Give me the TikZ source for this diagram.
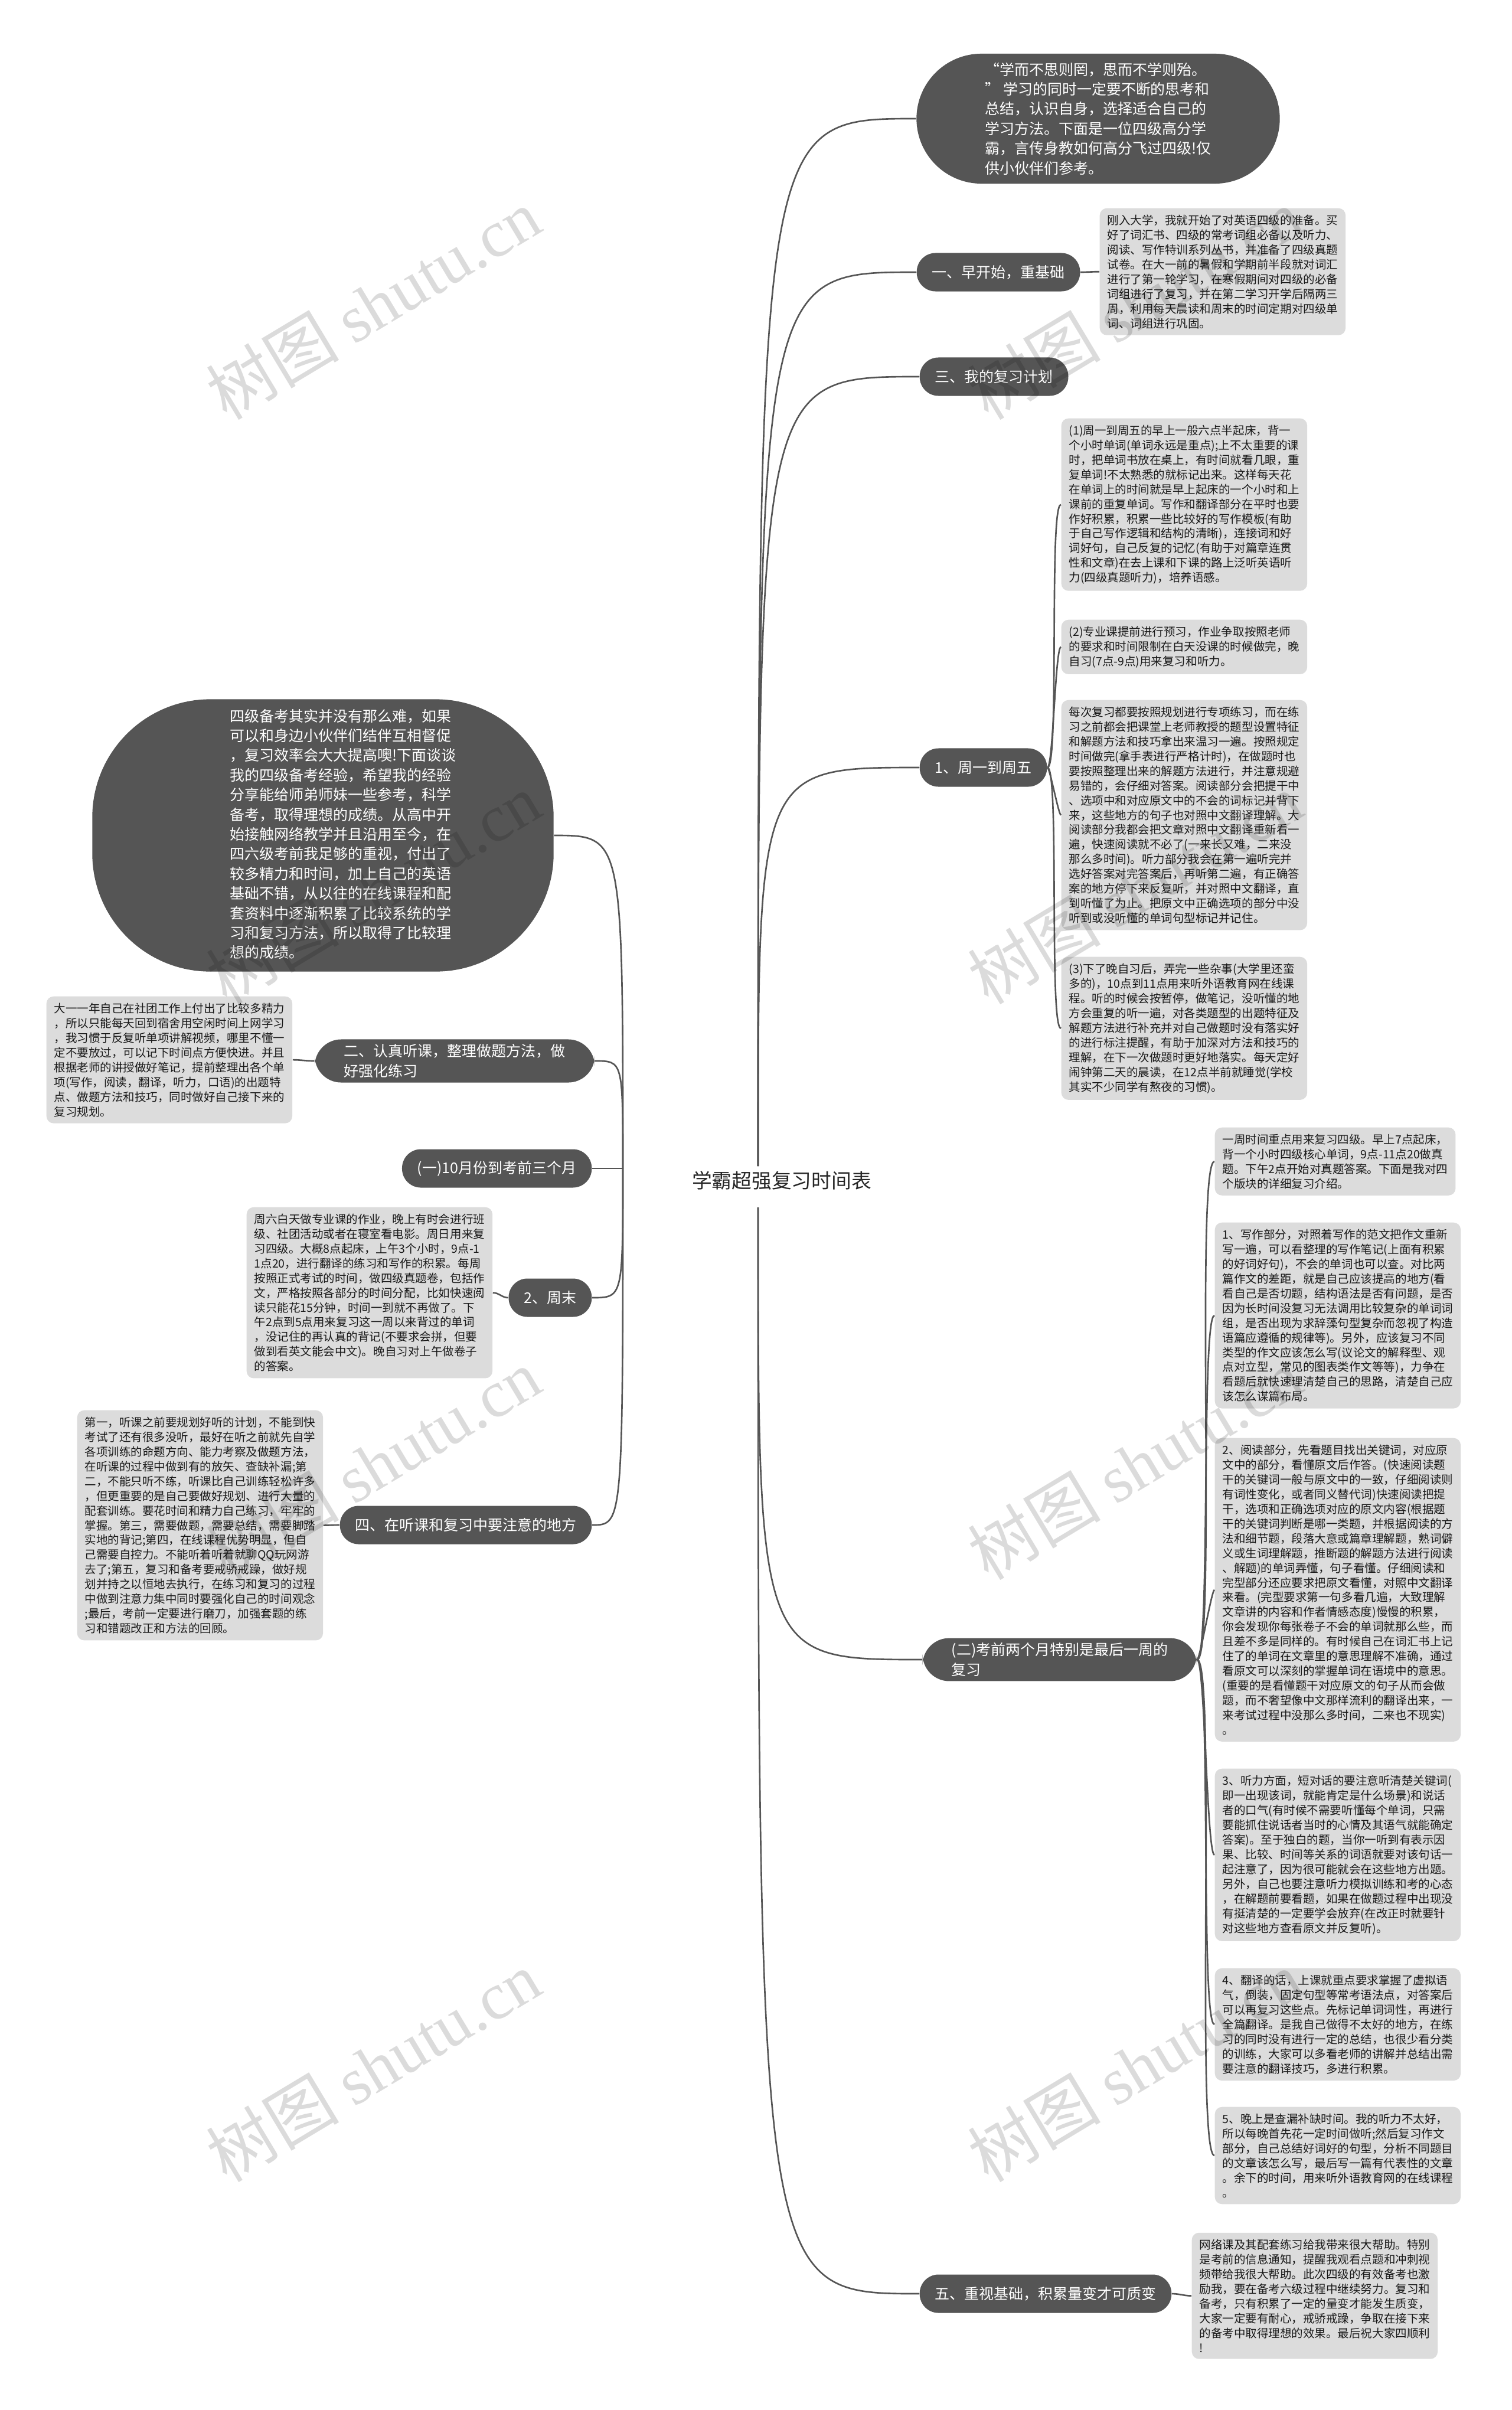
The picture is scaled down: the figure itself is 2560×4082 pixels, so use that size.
\documentclass[tikz,border=0pt]{standalone}
\usepackage{fontspec}
\setmainfont{Noto Sans CJK SC}
\newfontfamily\wmlatin{Liberation Serif}
\definecolor{topicgray}{HTML}{555555}
\definecolor{notegray}{HTML}{DCDCDC}

\begin{document}
\begin{tikzpicture}[x=0.01cm,y=-0.01cm,
    bubble/.style={fill=topicgray,text=white,align=left,font=\fontsize{7.1pt}{9.5pt}\selectfont},
    topic/.style={fill=topicgray,text=white,align=left,rounded corners=0.32cm,inner xsep=0.26cm,inner ysep=0.08cm,minimum height=0.65cm,font=\fontsize{7.1pt}{9.6pt}\selectfont},
    note/.style={fill=notegray,text=black!90,align=left,rounded corners=0.12cm,inner xsep=0.13cm,inner ysep=0.11cm,anchor=north west,font=\fontsize{5.55pt}{7.1pt}\selectfont},
    link/.style={draw=topicgray,line width=0.75pt},
    watermark/.style={text=black,opacity=0.14,rotate=31,font=\fontsize{32pt}{32pt}\selectfont}]

% page
\fill[white] (0,0) rectangle (2560,4082);
\useasboundingbox (0,0) rectangle (2560,4082);

% centre topic
\node[font=\fontsize{9.6pt}{11pt}\selectfont,text=black!85] (root) at (1324,2000) {学霸超强复习时间表};
\coordinate (upj) at (1284,1975);
\coordinate (dnj) at (1284,2045);
\coordinate (lj) at (1055,1979);

% bubbles
\node[bubble,minimum width=6.15cm,minimum height=2.2cm,rounded corners=1.1cm] (intro) at (1860,201) {“学而不思则罔，思而不学则殆。\\” 学习的同时一定要不断的思考和\\总结，认识自身，选择适合自己的\\学习方法。下面是一位四级高分学\\霸，言传身教如何高分飞过四级!仅\\供小伙伴们参考。};
\node[bubble,minimum width=7.81cm,minimum height=4.61cm,rounded corners=2cm] (summary) at (547,1415) {};
\node[bubble,fill=none] (summarytext) at (581,1413) {四级备考其实并没有那么难，如果\\可以和身边小伙伴们结伴互相督促\\，复习效率会大大提高噢!下面谈谈\\我的四级备考经验，希望我的经验\\分享能给师弟师妹一些参考，科学\\备考，取得理想的成绩。从高中开\\始接触网络教学并且沿用至今，在\\四六级考前我足够的重视，付出了\\较多精力和时间，加上自己的英语\\基础不错，从以往的在线课程和配\\套资料中逐渐积累了比较系统的学\\习和复习方法，所以取得了比较理\\想的成绩。};

% right topics
\node[topic,anchor=west] (early) at (1552,461) {一、早开始，重基础};
\node[topic,anchor=west] (plan) at (1557,638) {三、我的复习计划};
\node[topic,anchor=west] (weekday) at (1557,1300) {1、周一到周五};
\node[topic,anchor=west,minimum width=4.64cm,rounded corners=0.45cm] (final) at (1562,2811) {(二)考前两个月特别是最后一周的\\复习};
\node[topic,anchor=west] (basic) at (1557,3885) {五、重视基础，积累量变才可质变};

% left topics
\node[topic,anchor=east,minimum width=4.74cm,rounded corners=0.45cm] (listen) at (1008,1797) {二、认真听课，整理做题方法，做\\好强化练习};
\node[topic,anchor=east] (october) at (1003,1979) {(一)10月份到考前三个月};
\node[topic,anchor=east] (weekend) at (1003,2198) {2、周末};
\node[topic,anchor=east] (attention) at (1003,2583) {四、在听课和复习中要注意的地方};

% notes, right side
\node[note] (startnote) at (1862,352) {刚入大学，我就开始了对英语四级的准备。买\\好了词汇书、四级的常考词组必备以及听力、\\阅读、写作特训系列丛书，并准备了四级真题\\试卷。在大一前的暑假和学期前半段就对词汇\\进行了第一轮学习，在寒假期间对四级的必备\\词组进行了复习，并在第二学习开学后隔两三\\周，利用每天晨读和周末的时间定期对四级单\\词、词组进行巩固。};
\node[note] (wd1) at (1797,708) {(1)周一到周五的早上一般六点半起床，背一\\个小时单词(单词永远是重点);上不太重要的课\\时，把单词书放在桌上，有时间就看几眼，重\\复单词!不太熟悉的就标记出来。这样每天花\\在单词上的时间就是早上起床的一个小时和上\\课前的重复单词。写作和翻译部分在平时也要\\作好积累，积累一些比较好的写作模板(有助\\于自己写作逻辑和结构的清晰)，连接词和好\\词好句，自己反复的记忆(有助于对篇章连贯\\性和文章)在去上课和下课的路上泛听英语听\\力(四级真题听力)，培养语感。};
\node[note] (wd2) at (1797,1049) {(2)专业课提前进行预习，作业争取按照老师\\的要求和时间限制在白天没课的时候做完，晚\\自习(7点-9点)用来复习和听力。};
\node[note] (wd3) at (1797,1185) {每次复习都要按照规划进行专项练习，而在练\\习之前都会把课堂上老师教授的题型设置特征\\和解题方法和技巧拿出来温习一遍。按照规定\\时间做完(拿手表进行严格计时)，在做题时也\\要按照整理出来的解题方法进行，并注意规避\\易错的，会仔细对答案。阅读部分会把提干中\\、选项中和对应原文中的不会的词标记并背下\\来，这些地方的句子也对照中文翻译理解。大\\阅读部分我都会把文章对照中文翻译重新看一\\遍，快速阅读就不必了(一来长又难，二来没\\那么多时间)。听力部分我会在第一遍听完并\\选好答案对完答案后，再听第二遍，有正确答\\案的地方停下来反复听，并对照中文翻译，直\\到听懂了为止。把原文中正确选项的部分中没\\听到或没听懂的单词句型标记并记住。};
\node[note] (wd4) at (1797,1620) {(3)下了晚自习后，弄完一些杂事(大学里还蛮\\多的)，10点到11点用来听外语教育网在线课\\程。听的时候会按暂停，做笔记，没听懂的地\\方会重复的听一遍，对各类题型的出题特征及\\解题方法进行补充并对自己做题时没有落实好\\的进行标注提醒，有助于加深对方法和技巧的\\理解，在下一次做题时更好地落实。每天定好\\闹钟第二天的晨读，在12点半前就睡觉(学校\\其实不少同学有熬夜的习惯)。};
\node[note] (fin0) at (2057,1909) {一周时间重点用来复习四级。早上7点起床，\\背一个小时四级核心单词，9点-11点20做真\\题。下午2点开始对真题答案。下面是我对四\\个版块的详细复习介绍。};
\node[note] (fin1) at (2057,2070) {1、写作部分，对照着写作的范文把作文重新\\写一遍，可以看整理的写作笔记(上面有积累\\的好词好句)，不会的单词也可以查。对比两\\篇作文的差距，就是自己应该提高的地方(看\\看自己是否切题，结构语法是否有问题，是否\\因为长时间没复习无法调用比较复杂的单词词\\组，是否出现为求辞藻句型复杂而忽视了构造\\语篇应遵循的规律等)。另外，应该复习不同\\类型的作文应该怎么写(议论文的解释型、观\\点对立型，常见的图表类作文等等)，力争在\\看题后就快速理清楚自己的思路，清楚自己应\\该怎么谋篇布局。};
\node[note] (fin2) at (2057,2435) {2、阅读部分，先看题目找出关键词，对应原\\文中的部分，看懂原文后作答。(快速阅读题\\干的关键词一般与原文中的一致，仔细阅读则\\有词性变化，或者同义替代词)快速阅读把提\\干，选项和正确选项对应的原文内容(根据题\\干的关键词判断是哪一类题，并根据阅读的方\\法和细节题，段落大意或篇章理解题，熟词僻\\义或生词理解题，推断题的解题方法进行阅读\\、解题)的单词弄懂，句子看懂。仔细阅读和\\完型部分还应要求把原文看懂，对照中文翻译\\来看。(完型要求第一句多看几遍，大致理解\\文章讲的内容和作者情感态度)慢慢的积累，\\你会发现你每张卷子不会的单词就那么些，而\\且差不多是同样的。有时候自己在词汇书上记\\住了的单词在文章里的意思理解不准确，通过\\看原文可以深刻的掌握单词在语境中的意思。\\(重要的是看懂题干对应原文的句子从而会做\\题，而不奢望像中文那样流利的翻译出来，一\\来考试过程中没那么多时间，二来也不现实)\\。};
\node[note] (fin3) at (2057,2995) {3、听力方面，短对话的要注意听清楚关键词(\\即一出现该词，就能肯定是什么场景)和说话\\者的口气(有时候不需要听懂每个单词，只需\\要能抓住说话者当时的心情及其语气就能确定\\答案)。至于独白的题，当你一听到有表示因\\果、比较、时间等关系的词语就要对该句话一\\起注意了，因为很可能就会在这些地方出题。\\另外，自己也要注意听力模拟训练和考的心态\\，在解题前要看题，如果在做题过程中出现没\\有挺清楚的一定要学会放弃(在改正时就要针\\对这些地方查看原文并反复听)。};
\node[note] (fin4) at (2057,3333) {4、翻译的话，上课就重点要求掌握了虚拟语\\气，倒装，固定句型等常考语法点，对答案后\\可以再复习这些点。先标记单词词性，再进行\\全篇翻译。是我自己做得不太好的地方，在练\\习的同时没有进行一定的总结，也很少看分类\\的训练，大家可以多看老师的讲解并总结出需\\要注意的翻译技巧，多进行积累。};
\node[note] (fin5) at (2057,3568) {5、晚上是查漏补缺时间。我的听力不太好，\\所以每晚首先花一定时间做听;然后复习作文\\部分，自己总结好词好的句型，分析不同题目\\的文章该怎么写，最后写一篇有代表性的文章\\。余下的时间，用来听外语教育网的在线课程\\。};
\node[note] (basicnote) at (2018,3781) {网络课及其配套练习给我带来很大帮助。特别\\是考前的信息通知，提醒我观看点题和冲刺视\\频带给我很大帮助。此次四级的有效备考也激\\励我，要在备考六级过程中继续努力。复习和\\备考，只有积累了一定的量变才能发生质变，\\大家一定要有耐心，戒骄戒躁，争取在接下来\\的备考中取得理想的效果。最后祝大家四顺利\\!};

% notes, left side
\node[note] (listennote) at (78,1687) {大一一年自己在社团工作上付出了比较多精力\\，所以只能每天回到宿舍用空闲时间上网学习\\，我习惯于反复听单项讲解视频，哪里不懂一\\定不要放过，可以记下时间点方便快进。并且\\根据老师的讲授做好笔记，提前整理出各个单\\项(写作，阅读，翻译，听力，口语)的出题特\\点、做题方法和技巧，同时做好自己接下来的\\复习规划。};
\node[note] (weekendnote) at (417,2044) {周六白天做专业课的作业，晚上有时会进行班\\级、社团活动或者在寝室看电影。周日用来复\\习四级。大概8点起床，上午3个小时，9点-1\\1点20，进行翻译的练习和写作的积累。每周\\按照正式考试的时间，做四级真题卷，包括作\\文，严格按照各部分的时间分配，比如快速阅\\读只能花15分钟，时间一到就不再做了。下\\午2点到5点用来复习这一周以来背过的单词\\，没记住的再认真的背记(不要求会拼，但要\\做到看英文能会中文)。晚自习对上午做卷子\\的答案。};
\node[note] (attnote) at (130,2388) {第一，听课之前要规划好听的计划，不能到快\\考试了还有很多没听，最好在听之前就先自学\\各项训练的命题方向、能力考察及做题方法，\\在听课的过程中做到有的放矢、查缺补漏;第\\二，不能只听不练，听课比自己训练轻松许多\\，但更重要的是自己要做好规划、进行大量的\\配套训练。要花时间和精力自己练习，牢牢的\\掌握。第三，需要做题，需要总结，需要脚踏\\实地的背记;第四，在线课程优势明显，但自\\己需要自控力。不能听着听着就聊QQ玩网游\\去了;第五，复习和备考要戒骄戒躁，做好规\\划并持之以恒地去执行，在练习和复习的过程\\中做到注意力集中同时要强化自己的时间观念\\;最后，考前一定要进行磨刀，加强套题的练\\习和错题改正和方法的回顾。};

% root to topics
\draw[link] (upj) .. controls (upj |- intro.west) .. (intro.west);
\draw[link] (upj) .. controls (upj |- early.west) .. (early.west);
\draw[link] (upj) .. controls (upj |- plan.west) .. (plan.west);
\draw[link] (upj) .. controls (upj |- weekday.west) .. (weekday.west);
\draw[link] (dnj) .. controls (dnj |- final.west) .. (final.west);
\draw[link] (dnj) .. controls (dnj |- basic.west) .. (basic.west);
\draw[link] (lj) .. controls (lj |- summary.east) .. (summary.east);
\draw[link] (lj) .. controls (lj |- listen.east) .. (listen.east);
\draw[link] (lj) -- (october.east);
\draw[link] (lj) .. controls (lj |- weekend.east) .. (weekend.east);
\draw[link] (lj) .. controls (lj |- attention.east) .. (attention.east);

% topics to notes
\draw[link] (early.east) to[out=0,in=180] (startnote.west);
\foreach \n in {wd1,wd2,wd3,wd4}
    \draw[link] (weekday.east) to[out=0,in=180,looseness=0.12] (\n.west);
\foreach \n in {fin0,fin1,fin2,fin3,fin4,fin5}
    \draw[link] (final.east) to[out=0,in=180,looseness=0.1] (\n.west);
\draw[link] (basic.east) to[out=0,in=180] (basicnote.west);
\draw[link] (listen.west) to[out=180,in=0] (listennote.east);
\draw[link] (weekend.west) to[out=180,in=0] (weekendnote.east);
\draw[link] (attention.west) to[out=180,in=0] (attnote.east);

% watermarks
\foreach \wx/\wy [count=\i] in {632/515,632/1505,632/2480,632/3500,1922/515,1922/1505,1922/2480,1922/3500}
    \node[watermark] (wm\i) at (\wx,\wy) {树图 {\wmlatin shutu.cn}};
\end{tikzpicture}
\end{document}
